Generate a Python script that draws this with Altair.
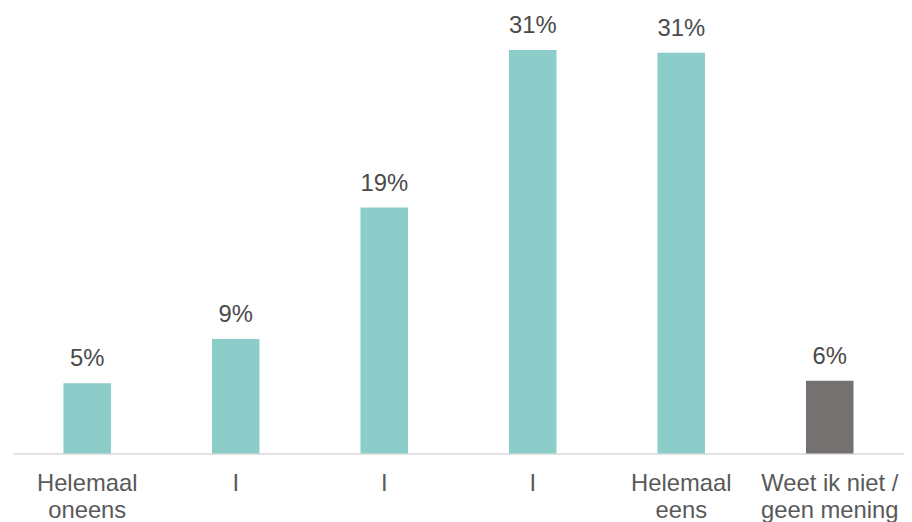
import json
import altair as alt
import pandas as pd

# Data
categories = ["Helemaal|oneens", "I", "I", "I", "Helemaal|eens", "Weet ik niet /|geen mening"]
values = [5.4, 8.8, 18.9, 31.0, 30.8, 5.6]
bar_colors = ["#8ccdca", "#8ccdca", "#8ccdca", "#8ccdca", "#8ccdca", "#767171"]

df = pd.DataFrame({
    "idx": list(range(len(categories))),
    "value": values,
    "color": bar_colors,
})

label_expr = "split(" + json.dumps(categories) + "[datum.value], '|')"

FONT = "Liberation Sans"

x_enc = alt.X(
    "idx:O",
    scale=alt.Scale(paddingInner=0.68, paddingOuter=0.34),
    axis=alt.Axis(
        title=None,
        labelAngle=0,
        labelExpr=label_expr,
        labelFont=FONT,
        labelFontSize=24,
        labelColor="#595959",
        labelPadding=18,
        labelLineHeight=27,
        labelBaseline="top",
        ticks=False,
        domainColor="#d9d9d9",
        domainWidth=1.5,
        grid=False,
    ),
)
y_enc = alt.Y("value:Q", scale=alt.Scale(domain=[0, 34], nice=False), axis=None)

bars = alt.Chart(df).mark_bar().encode(
    x=x_enc,
    y=y_enc,
    color=alt.Color("color:N", scale=None),
)

text = alt.Chart(df).transform_calculate(
    label="format(datum.value, '.0f') + '%'"
).mark_text(
    baseline="bottom", dy=-12, font=FONT, fontSize=24, color="#4a4a4a"
).encode(
    x=x_enc,
    y=y_enc,
    text="label:N",
)

chart = (bars + text).properties(
    width=898,
    height=446,
    padding={"left": 5, "top": 1, "right": 0, "bottom": 67},
    autosize=alt.AutoSizeParams(type="none"),
).configure_view(stroke=None)

chart.save("out.html", embed_options={"renderer": "svg", "actions": False})
